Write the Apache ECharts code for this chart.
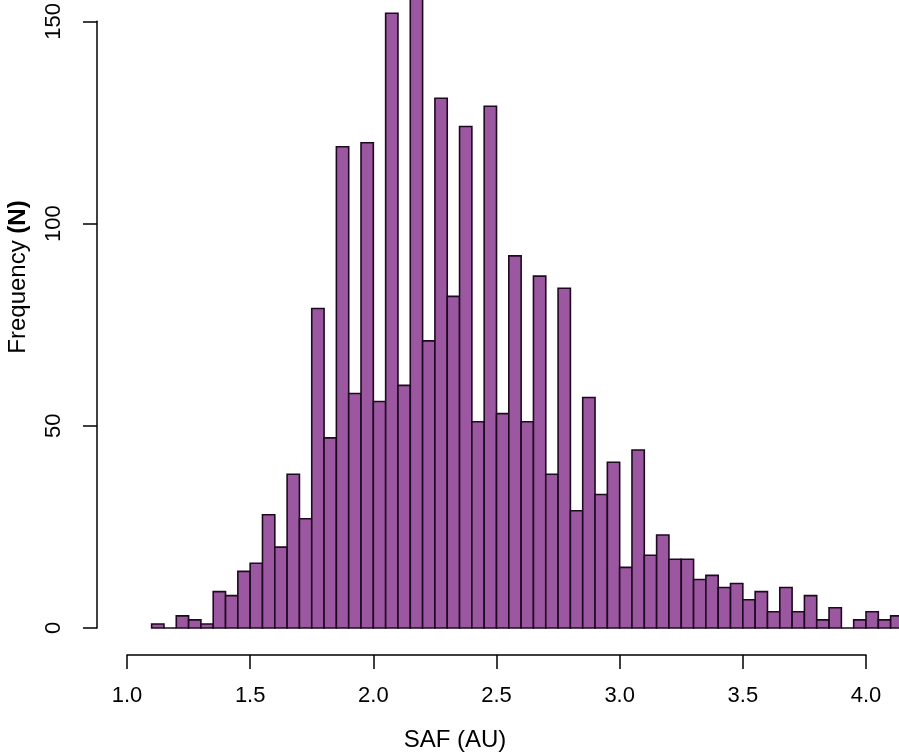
<!DOCTYPE html>
<html lang="en">
  <head>
    <meta charset="UTF-8" />
    <title>SAF histogram</title>
    <script src="https://cdn.jsdelivr.net/npm/echarts@6/dist/echarts.min.js"></script>
    <style>
      html, body { margin: 0; padding: 0; background: #fff; }
      #main { width: 899px; height: 755px; }
    </style>
  </head>
  <body>
    <div id="main"></div>

    <script>
      // histogram bins, left edges (width 0.05)
      const binWidth = 0.05;
      const binStarts = [
        1.10, 1.15, 1.20, 1.25, 1.30, 1.35, 1.40, 1.45, 1.50, 1.55,
        1.60, 1.65, 1.70, 1.75, 1.80, 1.85, 1.90, 1.95, 2.00, 2.05,
        2.10, 2.15, 2.20, 2.25, 2.30, 2.35, 2.40, 2.45, 2.50, 2.55,
        2.60, 2.65, 2.70, 2.75, 2.80, 2.85, 2.90, 2.95, 3.00, 3.05,
        3.10, 3.15, 3.20, 3.25, 3.30, 3.35, 3.40, 3.45, 3.50, 3.55,
        3.60, 3.65, 3.70, 3.75, 3.80, 3.85, 3.90, 3.95, 4.00, 4.05,
        4.10
      ];
      const counts = [
        1, 0, 3, 2, 1, 9, 8, 14, 16, 28,
        20, 38, 27, 79, 47, 119, 58, 120, 56, 152,
        60, 158, 71, 131, 82, 124, 51, 129, 53, 92,
        51, 87, 38, 84, 29, 57, 33, 41, 15, 44,
        18, 23, 17, 17, 12, 13, 10, 11, 7, 9,
        4, 10, 4, 8, 2, 5, 0, 2, 4, 2,
        3
      ];
      const xTicks = [1.0, 1.5, 2.0, 2.5, 3.0, 3.5, 4.0];
      const yTicks = [0, 50, 100, 150];

      const font = 'Liberation Sans, Arial, Helvetica, sans-serif';

      const barData = binStarts.map((s, i) => [s, s + binWidth, counts[i]]);

      var myChart = echarts.init(document.getElementById('main'));

      const options = {
        animation: false,
        grid: { left: 127, right: 33, top: 19, bottom: 127 },
        xAxis: {
          type: 'value',
          min: xTicks[0],
          max: xTicks[xTicks.length - 1],
          interval: 0.5,
          offset: 27,
          axisLine: { show: true, onZero: false, lineStyle: { color: '#000', width: 1.5 } },
          axisTick: { show: true, length: 14, lineStyle: { color: '#000', width: 1.5 } },
          axisLabel: {
            margin: 30,
            color: '#000',
            fontSize: 22,
            fontFamily: font,
            formatter: (v) => v.toFixed(1)
          },
          splitLine: { show: false }
        },
        yAxis: {
          type: 'value',
          min: yTicks[0],
          max: yTicks[yTicks.length - 1],
          interval: 50,
          offset: 30,
          axisLine: { show: true, onZero: false, lineStyle: { color: '#000', width: 1.5 } },
          axisTick: { show: true, length: 14, lineStyle: { color: '#000', width: 1.5 } },
          axisLabel: {
            rotate: 90,
            margin: 32,
            color: '#000',
            fontSize: 22,
            fontFamily: font
          },
          splitLine: { show: false }
        },
        graphic: [
          {
            type: 'text',
            x: 455,
            y: 740,
            style: {
              text: 'SAF (AU)',
              fontSize: 24,
              fontFamily: font,
              fill: '#000',
              textAlign: 'center',
              textVerticalAlign: 'middle'
            }
          },
          {
            type: 'text',
            x: 18,
            y: 277,
            rotation: Math.PI / 2,
            style: {
              text: 'Frequency {b|(N)}',
              fontSize: 24,
              fontFamily: font,
              fill: '#000',
              textAlign: 'center',
              textVerticalAlign: 'middle',
              rich: { b: { fontWeight: 'bold', fontSize: 24, fontFamily: font } }
            }
          }
        ],
        series: [
          {
            type: 'custom',
            clip: false,
            data: barData,
            renderItem: function (params, api) {
              const p0 = api.coord([api.value(0), 0]);
              const p1 = api.coord([api.value(1), api.value(2)]);
              return {
                type: 'rect',
                shape: { x: p0[0], y: p1[1], width: p1[0] - p0[0], height: p0[1] - p1[1] },
                style: { fill: '#9c57a1', stroke: '#1e0a20', lineWidth: 1.6 }
              };
            }
          }
        ]
      };

      myChart.setOption(options);

      window.onresize = function () {
        myChart.resize();
      };
    </script>
  </body>
</html>
